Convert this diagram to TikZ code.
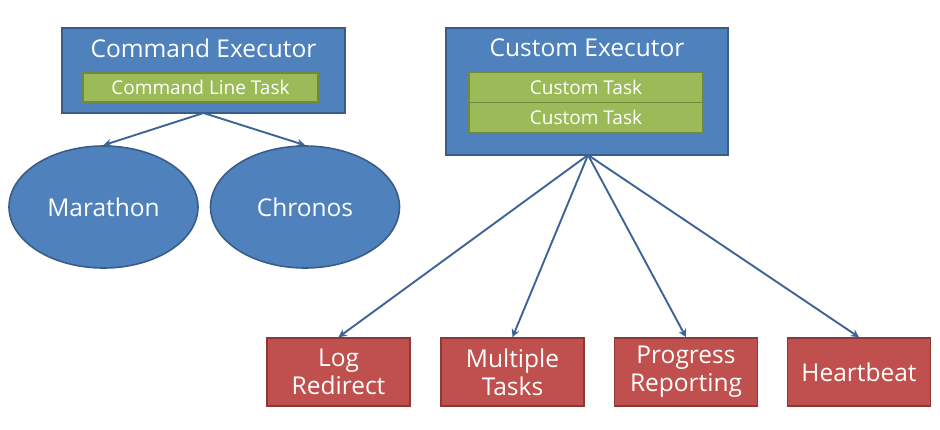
\documentclass[tikz,border=0pt]{standalone}
\usepackage{fontspec}
\setmainfont{Open Sans}
\usetikzlibrary{shapes.geometric}
\usetikzlibrary{arrows.meta}
\definecolor{exblue}{HTML}{4F81BD}
\definecolor{exblueline}{HTML}{385D8A}
\definecolor{taskgreen}{HTML}{9BBB59}
\definecolor{taskgreenline}{HTML}{71893F}
\definecolor{featred}{HTML}{C0504D}
\definecolor{featredline}{HTML}{8C3836}
\definecolor{arrowblue}{HTML}{3C6498}
\tikzset{%
    exbox/.style={draw=exblueline,fill=exblue,line width=1.6pt,inner sep=0pt},
    taskbox/.style={draw=taskgreenline,fill=taskgreen,line width=1.6pt,inner sep=0pt,
        text=white,font=\fontsize{19}{22}\selectfont},
    fwork/.style={ellipse,draw=exblueline,fill=exblue,line width=1.6pt,inner sep=0pt,
        minimum width=189pt,minimum height=122pt,text=white,font=\fontsize{24.5}{28}\selectfont},
    featbox/.style={draw=featredline,fill=featred,line width=1.6pt,inner sep=0pt,
        minimum width=143pt,minimum height=68pt,text=white,align=center,
        font=\fontsize{24.5}{28}\selectfont},
    extitle/.style={text=white,font=\fontsize{24.5}{28}\selectfont}
}

\begin{document}
\begin{tikzpicture}[x=1pt,y=-1pt,
            edge/.style={draw=arrowblue,line width=1.9pt,-{Stealth[length=8pt,width=8pt]}}
            ]
            \useasboundingbox (0,0) rectangle (940,429);

            \node[exbox,minimum width=283pt,minimum height=85pt] (cmdexec) at (203.5,70.5){};
            \node[extitle] (cmdtitle) at (203.5,48){Command Executor};
            \node[taskbox,minimum width=235pt,minimum height=29pt] (cmdtask) at (200.5,87.5){Command Line Task};

            \node[exbox,minimum width=282pt,minimum height=127pt] (cusexec) at (587,91.5){};
            \node[extitle] (custitle) at (587,48){Custom Executor};
            \node[taskbox,minimum width=234pt,minimum height=30.5pt] (custaska) at (586,87.25){Custom Task};
            \node[taskbox,minimum width=234pt,minimum height=30.5pt] (custaskb) at (586,117.75){Custom Task};

            \node[fwork] (marathon) at (103.5,207){Marathon};
            \node[fwork] (chronos) at (305,207){Chronos};

            \node[featbox] (logred) at (338.5,372){Log\\Redirect};
            \node[featbox] (multi) at (512.5,372){Multiple\\Tasks};
            \node[featbox] (progress) at (686,372){Progress\\Reporting};
            \node[featbox] (heart) at (859,372){Heartbeat};

            \coordinate (cmdfoot) at (203.5,113);
            \coordinate (cusfoot) at (588,155);

            \draw[edge] (cmdfoot) -- (marathon.north);
            \draw[edge] (cmdfoot) -- (chronos.north);

            \draw[edge] (cusfoot) -- (logred.north);
            \draw[edge] (cusfoot) -- (multi.north);
            \draw[edge] (cusfoot) -- (progress.north);
            \draw[edge] (cusfoot) -- (heart.north);
        \end{tikzpicture}
\end{document}
